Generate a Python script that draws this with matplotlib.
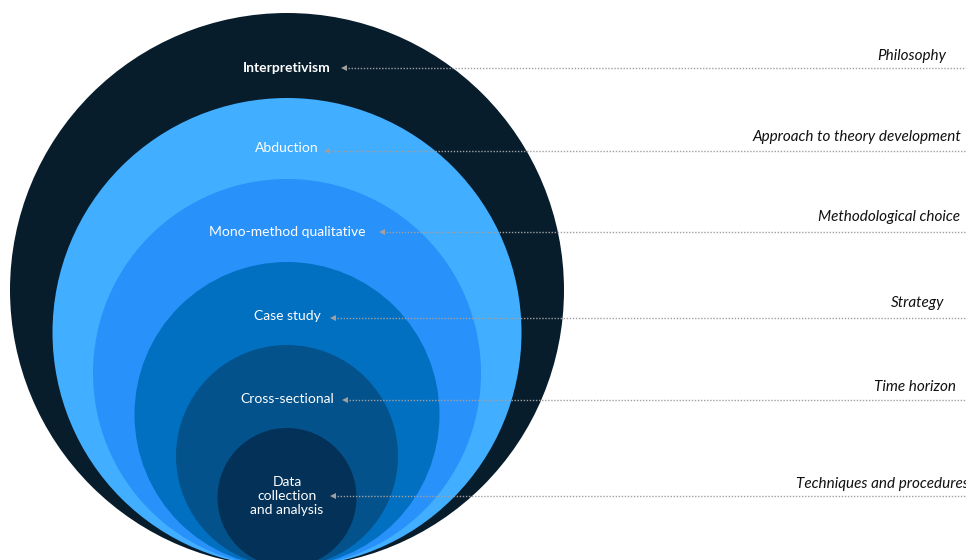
import matplotlib
matplotlib.use("Agg")
import matplotlib.pyplot as plt
from matplotlib.patches import Circle

# research onion layers, outer to inner
layers = ["Interpretivism", "Abduction", "Mono-method qualitative",
          "Case study", "Cross-sectional", "Data\ncollection\nand analysis"]
categories = ["Philosophy", "Approach to theory development", "Methodological choice",
              "Strategy", "Time horizon", "Techniques and procedures"]
radii = [277, 234.5, 194, 152.5, 111, 69.5]
colors = ["#081d2c", "#41aeff", "#2991fa", "#0270c1", "#03528c", "#033158"]

# pixel layout of labels / leader lines
label_y = [68, 148, 232, 316, 399, 496]
line_y = [68, 151, 232, 318, 400, 496]
arrow_x = [342, 325, 380, 331, 343, 331]
cat_x = [877, 753, 818, 891, 874, 796]
cat_y = [56, 137, 217, 303, 387, 484]

cx, bottom = 287, 567

fig = plt.figure(figsize=(9.66, 5.6), dpi=100)
ax = fig.add_axes([0, 0, 1, 1])
ax.set_xlim(0, 966)
ax.set_ylim(560, 0)
ax.axis("off")

for r, c in zip(radii, colors):
    ax.add_patch(Circle((cx, bottom - r), r, color=c, lw=0))

for i, name in enumerate(layers):
    ax.text(cx, label_y[i], name, color="white", ha="center", va="center",
            fontsize=10, family="Lato", fontweight="bold" if i == 0 else "normal",
            linespacing=1.15)
    ax.plot([arrow_x[i] + 3, 966], [line_y[i], line_y[i]], ls=(0, (1, 1.2)),
            color="#a0a0a0", lw=1)
    ax.plot(arrow_x[i] + 2, line_y[i], marker="<", ms=4, color="#a0a0a0", mew=0)
    ax.text(cat_x[i], cat_y[i], categories[i], color="#111111", ha="left",
            va="center", fontsize=11, family="Lato", style="italic")

fig.savefig("out.png", dpi=100)
